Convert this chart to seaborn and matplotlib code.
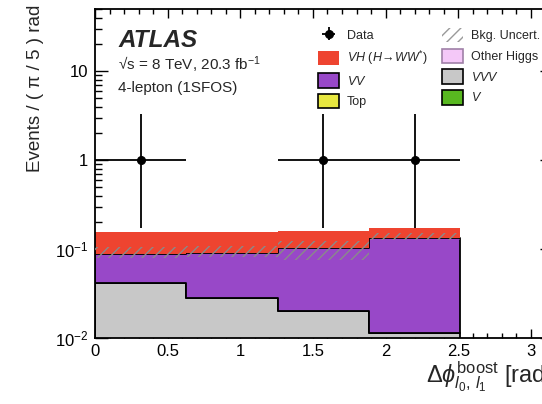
import numpy as np
import pandas as pd
import matplotlib
matplotlib.use("Agg")
import matplotlib.pyplot as plt
from matplotlib.patches import Patch
from matplotlib.ticker import FixedLocator, FixedFormatter, MultipleLocator, NullFormatter, LogLocator
import seaborn as sns

# ---- data -------------------------------------------------------------
bin_edges = [i * np.pi / 5 for i in range(5)]          # 0 .. 4pi/5
bin_centers = [0.5 * (a + b) for a, b in zip(bin_edges[:-1], bin_edges[1:])]

vvv = [0.0415, 0.028, 0.020, 0.0114]
vv = [0.0456, 0.0615, 0.0826, 0.1226]
vh = [0.069, 0.067, 0.055, 0.037]

bkg_band_lo = [0.080, 0.082, 0.076, 0.128]
bkg_band_hi = [0.106, 0.108, 0.122, 0.150]

data_x = [bin_centers[0], bin_centers[2], bin_centers[3]]
data_y = [1.0, 1.0, 1.0]
data_err_lo = [0.827, 0.827, 0.827]
data_err_hi = [2.30, 2.30, 2.30]

processes = ["VH", "VV", "VVV"]
colors = {"VH": "#ee4430", "VV": "#9848c8", "VVV": "#c8c8c8",
          "Top": "#e8e840", "V": "#58b820", "Other Higgs": "#f4c8f8"}

# ---- style ------------------------------------------------------------
sns.set_theme(style="ticks")
plt.rcParams["font.family"] = ["Liberation Sans", "DejaVu Sans"]
plt.rcParams["mathtext.fontset"] = "custom"
plt.rcParams["mathtext.rm"] = "Liberation Sans"
plt.rcParams["mathtext.it"] = "Liberation Sans:italic"
plt.rcParams["mathtext.bf"] = "Liberation Sans:bold"
plt.rcParams["hatch.linewidth"] = 1.0

W, H = 542, 404
fig = plt.figure(figsize=(W / 100, H / 100), dpi=100)
ax = fig.add_axes([95 / W, 66 / H, 456.5 / W, 329 / H])
ax.set_yscale("log")

df = pd.DataFrame({
    "x": bin_centers * 3,
    "w": vh + vv + vvv,
    "process": [p for p in processes for _ in range(4)],
})
sns.histplot(data=df, x="x", weights="w", hue="process", hue_order=processes,
             bins=bin_edges, multiple="stack", element="step", fill=True,
             palette=colors, alpha=1, linewidth=1.3, edgecolor="black",
             legend=False, ax=ax)

# no outline on the signal layer
for coll in ax.collections:
    fc = coll.get_facecolor()
    if len(fc) and np.allclose(fc[0][:3], matplotlib.colors.to_rgb(colors["VH"]), atol=0.02):
        coll.set_linewidth(0)
        coll.set_zorder(1)

# background uncertainty band
ax.stairs(bkg_band_hi, bin_edges, baseline=bkg_band_lo, fill=True,
          facecolor="none", edgecolor="#8a8a8a", hatch="///", linewidth=0, zorder=3)

# data points with Poisson errors
data_h = ax.errorbar(data_x, data_y, yerr=[data_err_lo, data_err_hi],
                     xerr=np.pi / 10, fmt="o", color="black", ms=5.5,
                     elinewidth=1.3, capsize=0, zorder=5)

# ---- axes -------------------------------------------------------------
ax.set_xlim(0, np.pi)
ax.set_ylim(0.01, 50)
ax.xaxis.set_minor_locator(MultipleLocator(0.1))
ax.set_xticks([0, 0.5, 1, 1.5, 2, 2.5, 3])
ax.set_xticklabels(["0", "0.5", "1", "1.5", "2", "2.5", "3"])
ax.yaxis.set_major_locator(FixedLocator([0.01, 0.1, 1, 10]))
ax.yaxis.set_major_formatter(FixedFormatter(["$10^{-2}$", "$10^{-1}$", "1", "10"]))
ax.yaxis.set_minor_locator(LogLocator(base=10, subs=np.arange(2, 10)))
ax.yaxis.set_minor_formatter(NullFormatter())
ax.tick_params(which="both", direction="in", top=True, right=True,
               colors="black", labelsize=12, width=1)
ax.tick_params(axis="x", which="major", length=6.5, pad=4)
ax.tick_params(axis="x", which="minor", length=3.5)
ax.tick_params(axis="y", which="major", length=9, pad=5)
ax.tick_params(axis="y", which="minor", length=5)
for s in ax.spines.values():
    s.set_linewidth(1.3)
    s.set_color("black")

ax.set_ylabel("Events / ( π / 5 ) rad", loc="top", fontsize=13.5)
ax.yaxis.set_label_coords(-0.112, 1.012)
ax.set_xlabel(r"$\mathit{Δ}\phi^{\mathrm{boost}}_{l_0,\, l_1}$ [rad]",
              loc="right", fontsize=17, labelpad=1)

# ---- labels -----------------------------------------------------------
fig.text(118 / W, 1 - 47 / H, "ATLAS", fontsize=17.5, fontweight="bold",
         fontstyle="italic", va="baseline")
fig.text(118 / W, 1 - 70 / H, "√s = 8 TeV, 20.3 fb$^{-1}$", fontsize=11,
         va="baseline")
fig.text(118 / W, 1 - 92 / H, "4-lepton (1SFOS)", fontsize=11, va="baseline")

# ---- legend -----------------------------------------------------------
def box(c, ec="black"):
    return Patch(facecolor=c, edgecolor=ec, linewidth=1.2)

col1 = [(data_h, "Data"),
        (Patch(facecolor=colors["VH"], edgecolor=colors["VH"], linewidth=0),
         r"$VH$ ($H\!\rightarrow\! WW^{*}$)"),
        (box(colors["VV"]), r"$VV$"),
        (box(colors["Top"]), "Top")]
col2 = [(Patch(facecolor="none", edgecolor="#9a9a9a", hatch="///", linewidth=0),
         "Bkg. Uncert."),
        (box(colors["Other Higgs"], "#a080a8"), "Other Higgs"),
        (box(colors["VVV"]), r"$VVV$"),
        (box(colors["V"]), r"$V$")]

common = dict(loc="upper left", frameon=False, fontsize=9, borderpad=0,
              handlelength=1.7, handleheight=1.4, handletextpad=0.6,
              labelspacing=0.5, borderaxespad=0, bbox_transform=fig.transFigure)
leg1 = ax.legend([h for h, _ in col1], [l for _, l in col1],
                 bbox_to_anchor=(318 / W, 1 - 28 / H), **common)
ax.add_artist(leg1)
ax.legend([h for h, _ in col2], [l for _, l in col2],
          bbox_to_anchor=(442 / W, 1 - 28 / H), **common)

fig.savefig("out.png", dpi=100)
